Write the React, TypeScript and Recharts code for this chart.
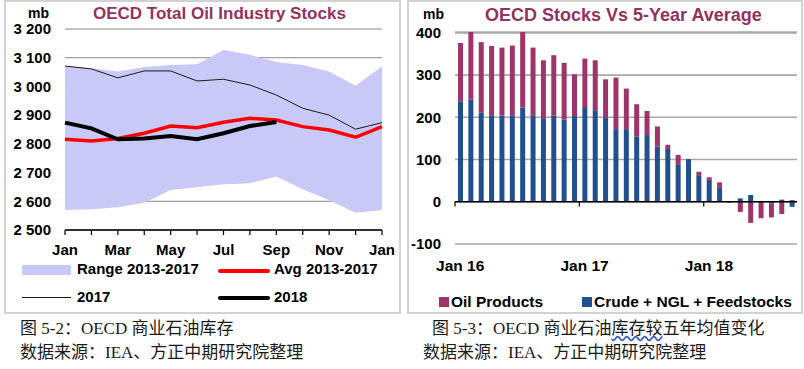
import React from "react";
import {
  ComposedChart,
  Area,
  Line,
  XAxis,
  YAxis,
  CartesianGrid,
  BarChart,
  Bar,
  ReferenceLine,
} from "recharts";

// ---------- Left chart: OECD Total Oil Industry Stocks ----------
const stockMonths = ["Jan", "Feb", "Mar", "Apr", "May", "Jun", "Jul", "Aug", "Sep", "Oct", "Nov", "Dec", "Jan"];
const rangeLow = [2570, 2572, 2579, 2595, 2639, 2649, 2659, 2663, 2686, 2642, 2604, 2560, 2570];
const rangeHigh = [3070, 3063, 3052, 3068, 3075, 3077, 3127, 3110, 3085, 3075, 3052, 3002, 3070];
const avg1317 = [2816, 2810, 2819, 2837, 2862, 2856, 2875, 2889, 2883, 2860, 2848, 2823, 2860];
const stocks2017 = [3071, 3061, 3030, 3054, 3054, 3019, 3025, 3005, 2970, 2924, 2900, 2851, 2874];
const stocks2018 = [2874, 2854, 2816, 2819, 2827, 2816, 2837, 2862, 2876];
const stockTicks = [2500, 2600, 2700, 2800, 2900, 3000, 3100, 3200];

// ---------- Right chart: OECD Stocks Vs 5-Year Average ----------
const diffMonths = [
  "Jan 16", "Feb 16", "Mar 16", "Apr 16", "May 16", "Jun 16", "Jul 16", "Aug 16", "Sep 16", "Oct 16", "Nov 16", "Dec 16",
  "Jan 17", "Feb 17", "Mar 17", "Apr 17", "May 17", "Jun 17", "Jul 17", "Aug 17", "Sep 17", "Oct 17", "Nov 17", "Dec 17",
  "Jan 18", "Feb 18", "Mar 18", "Apr 18", "May 18", "Jun 18", "Jul 18", "Aug 18", "Sep 18",
];
const crudeNgl = [238, 242, 212, 205, 204, 205, 223, 205, 198, 204, 195, 203, 222, 217, 200, 172, 172, 155, 158, 131, 125, 89, 101, 63, 52, 33, -2, 8, 16, 0, -4, 5, -12];
const oilProducts = [138, 160, 166, 164, 161, 165, 179, 160, 137, 143, 134, 99, 117, 118, 90, 122, 96, 76, 57, 47, 10, 22, 0, 8, 6, 13, 0, -24, -50, -39, -33, -29, 4];
const diffTicks = [-100, 0, 100, 200, 300, 400];

const FONT = "'Liberation Sans', Arial, sans-serif";
const CJK = "'Liberation Serif', 'Noto Sans CJK SC', serif";
const TITLE_COLOR = "#923263";
const PROD_COLOR = "#9E3468";
const CRUDE_COLOR = "#22508E";
const BAND_COLOR = "#C9C9F7";

const stockIdx = stockMonths.map((_, i) => i);

const stockData = stockMonths.map((m, i) => ({
  i,
  m,
  range: [rangeLow[i], rangeHigh[i]],
  avg: avg1317[i],
  y2017: stocks2017[i],
  y2018: i < stocks2018.length ? stocks2018[i] : null,
}));

const diffData = diffMonths.map((m, i) => ({
  m,
  crude: crudeNgl[i],
  products: oilProducts[i],
}));

const fmtThousands = (v: number) => {
  const s = String(v);
  return s.length > 3 ? s.slice(0, s.length - 3) + " " + s.slice(s.length - 3) : s;
};

// right chart layout constants
const R_W = 404;
const R_H = 290;
const R_TOP = 32;
const R_LEFT = 55;
const R_RIGHT = 7;
const R_XH = 46;
const R_PLOT_H = R_H - R_TOP - R_XH;
const R_PLOT_W = R_W - R_LEFT - R_RIGHT;
const R_BAND = R_PLOT_W / diffMonths.length;
const R_ZERO_Y = R_TOP + (R_PLOT_H * 400) / 500;

const LeftTick = (props: any) => {
  const { x, y, payload } = props;
  const v = Number(payload.value);
  return (
    <g>
      <line x1={x} x2={x} y1={y} y2={y + 5} stroke="#000" strokeWidth={1.2} />
      {v % 2 === 0 && (
        <text x={x} y={y + 25} textAnchor="middle" fontSize={15} fontWeight="bold" fill="#000" fontFamily={FONT}>
          {stockMonths[v]}
        </text>
      )}
    </g>
  );
};

const RightTick = (props: any) => {
  const { x, y, payload } = props;
  const bx = x - R_BAND / 2;
  return (
    <g>
      <line x1={bx} x2={bx} y1={R_ZERO_Y} y2={R_ZERO_Y + 5} stroke="#000" strokeWidth={1.2} />
      <text x={x} y={y + 27} textAnchor="middle" fontSize={15.5} fontWeight="bold" fill="#000" fontFamily={FONT}>
        {payload.value}
      </text>
    </g>
  );
};

const txt = (extra: React.CSSProperties): React.CSSProperties => ({
  position: "absolute",
  fontFamily: FONT,
  fontWeight: "bold",
  color: "#000",
  whiteSpace: "nowrap",
  lineHeight: "20px",
  ...extra,
});

const cap = (left: number, top: number): React.CSSProperties => ({
  position: "absolute",
  left,
  top,
  fontFamily: CJK,
  fontSize: 17,
  lineHeight: "22px",
  color: "#1a1a1a",
  whiteSpace: "nowrap",
});

export default function App() {
  return (
    <div style={{ position: "absolute", left: 0, top: 0, width: 804, height: 369, background: "#fff", overflow: "hidden" }}>
      {/* panel borders */}
      <div style={{ position: "absolute", left: 4, top: 0, width: 393, height: 310, border: "2px solid #d2d2d2" }} />
      <div style={{ position: "absolute", left: 407, top: 0, width: 392, height: 310, border: "2px solid #d2d2d2" }} />

      {/* Left chart */}
      <div style={{ position: "absolute", left: 0, top: 0 }}>
        <ComposedChart width={400} height={260} data={stockData} margin={{ top: 29, left: 5, right: 18, bottom: 0 }}>
          <CartesianGrid vertical={false} stroke="#8a8a8a" strokeWidth={1} />
          <XAxis
            dataKey="i"
            type="number"
            domain={[0, 12]}
            ticks={stockIdx}
            interval={0}
            height={30}
            tickSize={0}
            tickMargin={0}
            tickLine={false}
            axisLine={{ stroke: "#000", strokeWidth: 1.3 }}
            tick={<LeftTick />}
          />
          <YAxis
            domain={[2500, 3200]}
            ticks={stockTicks}
            width={60}
            axisLine={false}
            tickLine={false}
            tickSize={0}
            tickMargin={14}
            tickFormatter={fmtThousands}
            tick={{ fontSize: 15, fontWeight: "bold", fill: "#000", fontFamily: FONT }}
            interval={0}
          />
          <Area dataKey="range" stroke="none" fill={BAND_COLOR} fillOpacity={1} isAnimationActive={false} />
          <Line dataKey="y2017" stroke="#1a1a1a" strokeWidth={1} dot={false} isAnimationActive={false} />
          <Line dataKey="avg" stroke="#ff0000" strokeWidth={3.5} dot={false} isAnimationActive={false} />
          <Line dataKey="y2018" stroke="#000" strokeWidth={4} dot={false} connectNulls={false} isAnimationActive={false} />
        </ComposedChart>
      </div>

      {/* Left titles */}
      <div style={txt({ left: 28, top: 6, fontSize: 14, lineHeight: "14px" })}>mb</div>
      <div style={txt({ left: 93, top: 4, fontSize: 17, color: TITLE_COLOR })}>OECD Total Oil Industry Stocks</div>

      {/* Left legend */}
      <div style={{ position: "absolute", left: 22, top: 265, width: 49, height: 10, background: BAND_COLOR }} />
      <div style={txt({ left: 77, top: 259, fontSize: 15 })}>Range 2013-2017</div>
      <div style={{ position: "absolute", left: 218, top: 269, width: 52, height: 3.5, background: "#ff0000", borderRadius: 2 }} />
      <div style={txt({ left: 274, top: 259, fontSize: 15 })}>Avg 2013-2017</div>
      <div style={{ position: "absolute", left: 22, top: 297, width: 49, height: 1, background: "#1a1a1a" }} />
      <div style={txt({ left: 77, top: 287, fontSize: 15 })}>2017</div>
      <div style={{ position: "absolute", left: 218, top: 296, width: 52, height: 4, background: "#000", borderRadius: 2 }} />
      <div style={txt({ left: 274, top: 287, fontSize: 15 })}>2018</div>

      {/* Right chart */}
      <div style={{ position: "absolute", left: 400, top: 0 }}>
        <BarChart
          width={R_W}
          height={R_H}
          data={diffData}
          stackOffset="sign"
          barSize={5}
          margin={{ top: R_TOP, left: 0, right: R_RIGHT, bottom: 0 }}
        >
          <CartesianGrid vertical={false} stroke="#a8a8a8" strokeWidth={1.6} />
          <XAxis
            dataKey="m"
            interval={11}
            height={R_XH}
            tickSize={0}
            tickMargin={0}
            tickLine={false}
            axisLine={false}
            tick={<RightTick />}
          />
          <YAxis
            domain={[-100, 400]}
            ticks={diffTicks}
            width={R_LEFT}
            axisLine={false}
            tickLine={false}
            tickSize={0}
            tickMargin={14}
            interval={0}
            tick={{ fontSize: 15, fontWeight: "bold", fill: "#000", fontFamily: FONT }}
          />
          <Bar dataKey="crude" stackId="s" fill={CRUDE_COLOR} isAnimationActive={false} />
          <Bar dataKey="products" stackId="s" fill={PROD_COLOR} isAnimationActive={false} />
          <ReferenceLine y={0} stroke="#000" strokeWidth={1.5} />
        </BarChart>
      </div>

      {/* Right titles */}
      <div style={txt({ left: 423, top: 7, fontSize: 14, lineHeight: "14px" })}>mb</div>
      <div style={txt({ left: 485, top: 5, fontSize: 18, color: TITLE_COLOR })}>OECD Stocks Vs 5-Year Average</div>

      {/* Right legend */}
      <div style={{ position: "absolute", left: 439, top: 297, width: 10, height: 10, background: PROD_COLOR }} />
      <div style={txt({ left: 451, top: 292, fontSize: 15.5 })}>Oil Products</div>
      <div style={{ position: "absolute", left: 582, top: 297, width: 10, height: 10, background: CRUDE_COLOR }} />
      <div style={txt({ left: 594, top: 292, fontSize: 15.5 })}>Crude + NGL + Feedstocks</div>

      {/* Captions */}
      <div style={cap(20, 318)}>图 5-2：OECD 商业石油库存</div>
      <div style={cap(20, 342)}>数据来源：IEA、方正中期研究院整理</div>
      <div style={cap(432, 318)}>
        图 5-3：OECD 商业石油
        <span style={{ textDecorationLine: "underline", textDecorationStyle: "wavy", textDecorationColor: "#3a5ad0" }}>库存较</span>
        五年均值变化
      </div>
      <div style={cap(423, 342)}>数据来源：IEA、方正中期研究院整理</div>
    </div>
  );
}
